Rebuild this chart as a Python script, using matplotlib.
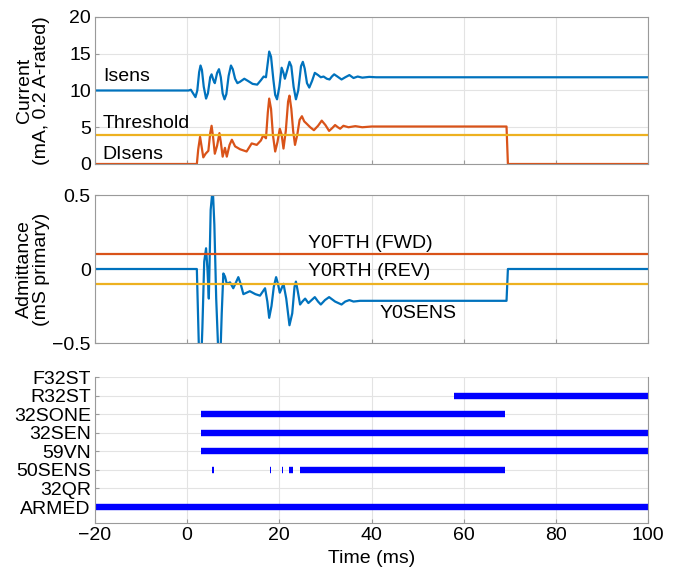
import matplotlib
matplotlib.use("Agg")
import matplotlib.pyplot as plt

plt.rcParams['font.family'] = ['Liberation Sans', 'DejaVu Sans']

# ---------------- data ----------------
isens_t = [-20, 0.3, 0.8, 1.3, 1.8, 2.2, 2.6, 2.9, 3.2, 3.6, 4.1, 4.5, 5.0, 5.3, 5.7, 6.0,
           6.5, 6.9, 7.3, 7.7, 8.1, 8.5, 9.0, 9.5, 9.9, 10.4, 10.9, 11.5, 12.4, 13.2, 14.2,
           15.2, 16.0, 16.6, 17.1, 17.5, 17.8, 18.2, 18.7, 19.1, 19.5, 20.0, 20.5, 20.9,
           21.2, 21.6, 22.2, 22.6, 23.1, 23.6, 24.1, 24.7, 25.1, 25.5, 26.0, 26.5, 27.1,
           27.7, 28.4, 29.0, 29.6, 30.3, 30.9, 31.4, 31.9, 32.6, 33.5, 34.3, 35.2, 36.1,
           37.0, 38.0, 39.5, 41, 100]
isens_v = [10, 10, 10.1, 9.6, 9.1, 10.0, 12.5, 13.4, 12.8, 10.5, 8.9, 9.6, 11.8, 12.2, 11.4, 11.0,
           12.4, 12.9, 11.8, 9.6, 8.8, 9.5, 12.0, 13.4, 12.9, 11.6, 11.0, 11.2, 11.6, 11.3, 10.9,
           10.8, 11.4, 11.9, 11.8, 13.8, 15.3, 14.6, 11.5, 9.4, 8.8, 10.5, 13.1, 12.4,
           11.6, 12.5, 13.9, 13.3, 10.5, 8.8, 10.0, 13.3, 13.9, 13.0, 11.0, 10.4, 11.3,
           12.4, 12.1, 11.8, 11.9, 11.6, 11.5, 11.9, 12.2, 11.9, 11.5, 11.8, 12.1, 11.7,
           11.9, 11.75, 11.85, 11.8, 11.8]

disens_t = [-20, 2.1, 2.4, 2.8, 3.1, 3.5, 4.0, 4.6, 5.0, 5.3, 5.6, 6.0, 6.5, 7.0, 7.3, 7.7,
            8.2, 8.6, 9.2, 9.7, 10.4, 11.5, 12.9, 14.0, 15.1, 16.0, 16.5, 17.1, 17.5, 17.8,
            18.2, 18.6, 19.1, 19.6, 20.1, 20.5, 20.9, 21.4, 21.9, 22.2, 22.6, 23.0, 23.4,
            23.9, 24.4, 24.9, 25.4, 25.9, 26.7, 27.5, 28.4, 29.2, 30.0, 30.8, 31.5, 32.1,
            32.7, 33.2, 33.9, 35, 36.5, 38, 40, 50, 69.3, 69.6, 100]
disens_v = [0, 0, 2.0, 3.7, 2.5, 0.9, 1.4, 1.8, 4.2, 5.2, 3.8, 1.4, 2.5, 4.2, 3.0, 1.0,
            2.2, 1.0, 2.6, 3.3, 2.4, 2.0, 1.7, 2.8, 2.6, 3.2, 3.9, 3.5, 7.0, 8.9,
            7.5, 4.0, 1.7, 3.0, 4.8, 4.0, 2.1, 4.5, 8.5, 9.3, 7.5, 4.5, 2.6,
            4.0, 6.0, 6.5, 5.8, 5.5, 5.0, 4.6, 5.2, 5.9, 5.3, 4.5, 4.9, 5.3,
            5.0, 4.8, 5.2, 5.0, 5.15, 5.0, 5.1, 5.1, 5.1, 0, 0]
threshold = 4.0

y0sens_t = [-20, 2.1, 2.6, 2.9, 3.3, 3.7, 4.1, 4.4, 4.7, 5.1, 5.55, 5.9, 6.3, 6.8, 7.1, 7.5,
            7.85, 8.2, 8.6, 9.3, 10.0, 10.6, 11.1, 11.6, 12.2, 13.6, 14.8, 15.8, 16.9, 17.4,
            17.8, 18.3, 18.8, 19.3, 19.7, 20.1, 20.9, 21.5, 22.2, 22.8, 23.3, 23.6, 24.0,
            24.5, 25.0, 25.6, 26.3, 27.0, 27.7, 28.4, 29.0, 29.9, 30.8, 32.1, 33.5, 34.3,
            35.2, 36.1, 37.5, 69.3, 69.6, 100]
y0sens_v = [0, 0, -0.6, -0.75, -0.4, 0.05, 0.14, 0.0, -0.2, 0.4, 0.55, 0.3, -0.2, -0.6, -0.7, -0.3,
            -0.03, -0.05, -0.1, -0.09, -0.13, -0.09, -0.055, -0.1, -0.17, -0.15, -0.17, -0.18, -0.13, -0.22,
            -0.33, -0.25, -0.12, -0.055, -0.1, -0.16, -0.1, -0.2, -0.38, -0.3, -0.12, -0.085, -0.15,
            -0.24, -0.22, -0.2, -0.23, -0.21, -0.19, -0.22, -0.24, -0.21, -0.19, -0.22, -0.24, -0.22,
            -0.21, -0.22, -0.215, -0.215, 0, 0]
y0fth = 0.1
y0rth = -0.1

bit_names = ['ARMED', '32QR', '50SENS', '59VN', '32SEN', '32SONE', 'R32ST', 'F32ST']
bit_segments = {
    'ARMED': [(-20, 100)],
    '32QR': [],
    '50SENS': [(5.4, 5.8), (17.9, 18.2), (20.5, 20.8), (22.0, 23.0), (24.5, 69.0)],
    '59VN': [(3, 100)],
    '32SEN': [(3, 100)],
    '32SONE': [(3, 69)],
    'R32ST': [(58, 100)],
    'F32ST': [],
}

# ---------------- figure ----------------
BLUE = '#0072BD'
ORANGE = '#D95319'
YELLOW = '#EDB120'
SPINE = '#9a9a9a'
GRID = '#e3e3e3'
FS = 14

fig = plt.figure(figsize=(6.78, 5.69), dpi=100)
W, H = 678, 569
def rect(l, r, t, b):
    return [l / W, 1 - b / H, (r - l) / W, (b - t) / H]

ax1 = fig.add_axes(rect(95, 648, 17, 164))
ax2 = fig.add_axes(rect(95, 648, 195, 343))
ax3 = fig.add_axes(rect(95, 648, 377, 523))

for ax in (ax1, ax2, ax3):
    ax.set_xlim(-20, 100)
    ax.set_xticks([-20, 0, 20, 40, 60, 80, 100])
    ax.grid(True, color=GRID, linewidth=0.8)
    ax.set_axisbelow(True)
    for s in ax.spines.values():
        s.set_color(SPINE)
        s.set_linewidth(0.8)
    ax.tick_params(direction='in', length=3, color=SPINE, labelsize=FS, width=0.8, pad=3)

# top
ax1.plot(isens_t, isens_v, color=BLUE, lw=1.6)
ax1.plot(disens_t, disens_v, color=ORANGE, lw=1.6)
ax1.axhline(threshold, color=YELLOW, lw=1.6)
ax1.set_ylim(0, 20)
ax1.set_yticks([0, 5, 10, 15, 20])
ax1.tick_params(labelbottom=False)
ax1.set_ylabel('Current\n(mA, 0.2 A-rated)', fontsize=FS, linespacing=1.0, va='center')
ax1.yaxis.set_label_coords(-0.113, 0.5)
ax1.text(-18.3, 11.9, 'Isens', fontsize=FS, va='center')
ax1.text(-18.3, 5.5, 'Threshold', fontsize=FS, va='center')
ax1.text(-18.3, 1.3, 'DIsens', fontsize=FS, va='center')

# middle
ax2.plot(y0sens_t, y0sens_v, color=BLUE, lw=1.6)
ax2.axhline(y0fth, color=ORANGE, lw=1.6)
ax2.axhline(y0rth, color=YELLOW, lw=1.6)
ax2.set_ylim(-0.5, 0.5)
ax2.set_yticks([-0.5, 0, 0.5])
ax2.set_yticklabels(['\u22120.5', '0', '0.5'])
ax2.tick_params(labelbottom=False)
ax2.set_ylabel('Admittance\n(mS primary)', fontsize=FS, linespacing=1.0, va='center')
ax2.yaxis.set_label_coords(-0.113, 0.5)
ax2.text(26.3, 0.175, 'Y0FTH (FWD)', fontsize=FS, va='center')
ax2.text(26.3, -0.015, 'Y0RTH (REV)', fontsize=FS, va='center')
ax2.text(41.8, -0.3, 'Y0SENS', fontsize=FS, va='center')

# bottom
for i, name in enumerate(bit_names):
    for (a, b) in bit_segments[name]:
        ax3.hlines(i + 1, a, b, color='#0000FF', lw=4.6, capstyle='butt')
ax3.set_yticks(range(1, len(bit_names) + 1))
ax3.set_yticklabels(bit_names)
ax3.set_ylim(0.14, len(bit_names))
ax3.spines['top'].set_visible(False)
ax3.set_xlabel('Time (ms)', fontsize=FS, labelpad=4)

fig.savefig('out.png', dpi=100)
